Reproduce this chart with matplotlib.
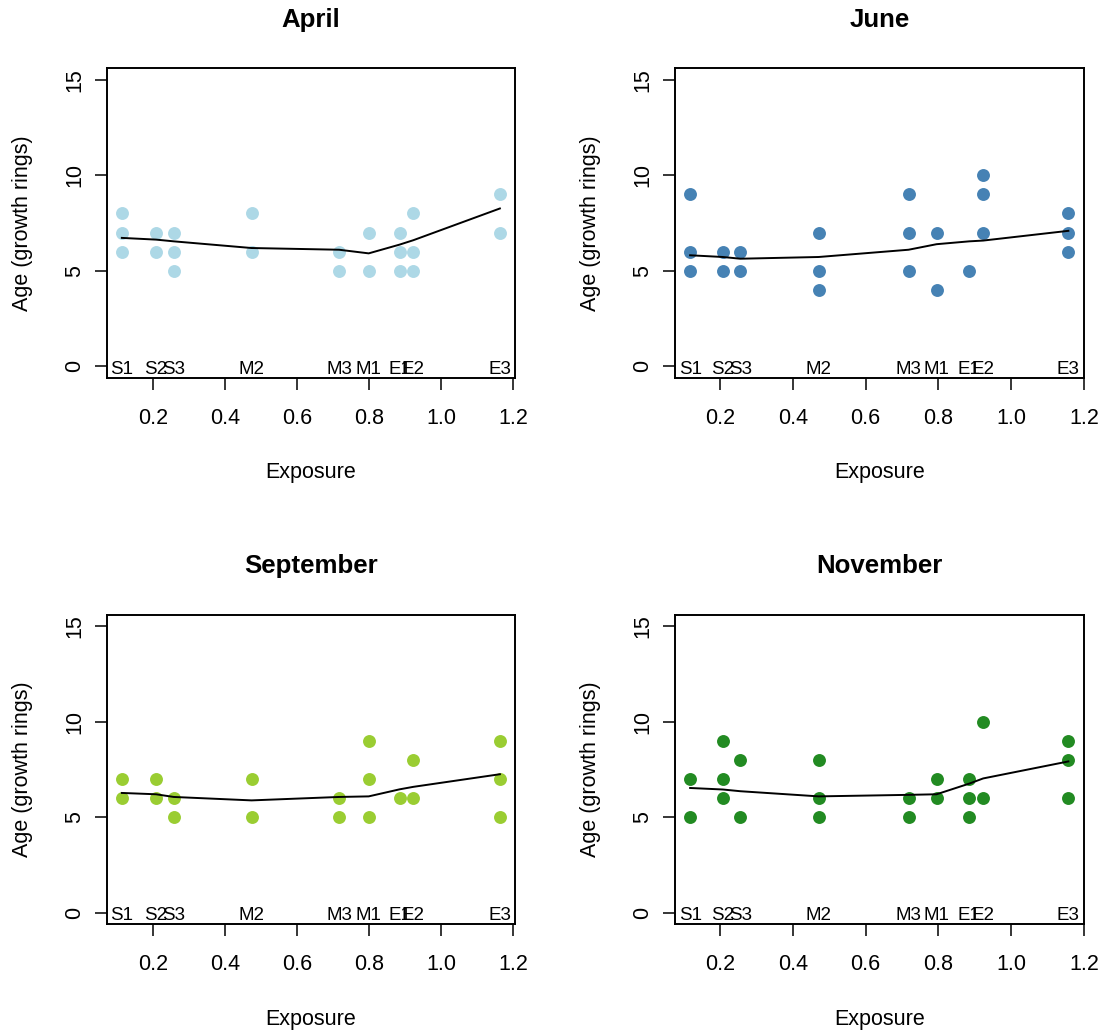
import numpy as np
import matplotlib
matplotlib.use("Agg")
import matplotlib.pyplot as plt

plt.rcParams['font.family'] = ['Liberation Sans', 'DejaVu Sans']

sites = ["S1", "S2", "S3", "M2", "M3", "M1", "E1", "E2", "E3"]
exposure_a = [0.114, 0.209, 0.258, 0.474, 0.717, 0.799, 0.885, 0.923, 1.163]
exposure_b = [0.118, 0.208, 0.256, 0.471, 0.718, 0.795, 0.885, 0.923, 1.157]

months = ["April", "June", "September", "November"]
colors = ["#ADD8E6", "#4682B4", "#9ACD32", "#228B22"]

april_ages = [[6, 7, 8], [6, 7], [5, 6, 7], [6, 8], [5, 6], [5, 7], [5, 6, 7], [5, 6, 8], [7, 9]]
june_ages = [[5, 6, 9], [5, 6], [5, 6], [4, 5, 7], [5, 7, 9], [4, 7], [5], [7, 9, 10], [6, 7, 8]]
sept_ages = [[6, 7], [6, 7], [5, 6], [5, 7], [5, 6], [5, 7, 9], [6], [6, 8], [5, 7, 9]]
nov_ages = [[5, 7], [6, 7, 9], [5, 8], [5, 6, 8], [5, 6], [6, 7], [5, 6, 7], [6, 10], [6, 8, 9]]

april_trend = [6.72, 6.63, 6.54, 6.19, 6.10, 5.91, 6.37, 6.60, 8.26]
june_trend = [5.81, 5.72, 5.63, 5.72, 6.10, 6.39, 6.54, 6.58, 7.09]
sept_trend = [6.28, 6.21, 6.07, 5.89, 6.07, 6.10, 6.47, 6.60, 7.26]
nov_trend = [6.54, 6.46, 6.37, 6.10, 6.18, 6.21, 6.77, 7.04, 7.93]

all_ages = [april_ages, june_ages, sept_ages, nov_ages]
all_trends = [april_trend, june_trend, sept_trend, nov_trend]
all_expo = [exposure_a, exposure_b, exposure_a, exposure_b]

W, H = 1104, 1036
fig = plt.figure(figsize=(W / 100, H / 100), dpi=100)

# box positions in pixels: left, top, right, bottom
boxes = [(106.7, 68.3, 515, 377.7), (675, 68.3, 1084, 377.7),
         (106.7, 615, 515, 924.3), (675, 615, 1084, 924.3)]

for i in range(4):
    l, t, r, b = boxes[i]
    ax = fig.add_axes([l / W, 1 - b / H, (r - l) / W, (b - t) / H])
    xs = np.array(all_expo[i])
    for x, ages in zip(xs, all_ages[i]):
        ax.plot([x] * len(ages), ages, 'o', color=colors[i], markersize=9.3,
                markeredgewidth=0, zorder=2)
    ax.plot(xs, all_trends[i], color="black", lw=1.4, zorder=3)
    for x, s in zip(xs, sites):
        ax.annotate(s, (x, 0), xytext=(0, -2.2), textcoords="offset points",
                    ha="center", va="center", fontsize=13.5, zorder=4)

    rng = xs.max() - xs.min()
    ax.set_xlim(xs.min() - 0.04 * rng, xs.max() + 0.04 * rng)
    ax.set_ylim(-0.6, 15.6)
    ax.set_xticks([0.2, 0.4, 0.6, 0.8, 1.0, 1.2])
    ax.set_xticklabels(["0.2", "0.4", "0.6", "0.8", "1.0", "1.2"])
    ax.set_yticks([0, 5, 10, 15])
    ax.tick_params(axis="both", length=8.5, width=1.1, labelsize=15.5, direction="out")
    ax.tick_params(axis="x", pad=13)
    ax.tick_params(axis="y", pad=7, labelrotation=90)
    for lab in ax.get_yticklabels():
        lab.set_va("center")
    for sp in ax.spines.values():
        sp.set_linewidth(1.4)

    ax.set_xlabel("Exposure", fontsize=15.5)
    ax.xaxis.set_label_coords(0.5, -0.308)
    ax.xaxis.label.set_va("center")
    ax.set_ylabel("Age (growth rings)", fontsize=15.5)
    ax.yaxis.set_label_coords(-0.207, 0.5)
    ax.yaxis.label.set_va("center")
    ax.text(0.5, 1.157, months[i], transform=ax.transAxes, ha="center", va="center",
            fontsize=18.6, fontweight="bold")

fig.savefig("out.png", dpi=100)
